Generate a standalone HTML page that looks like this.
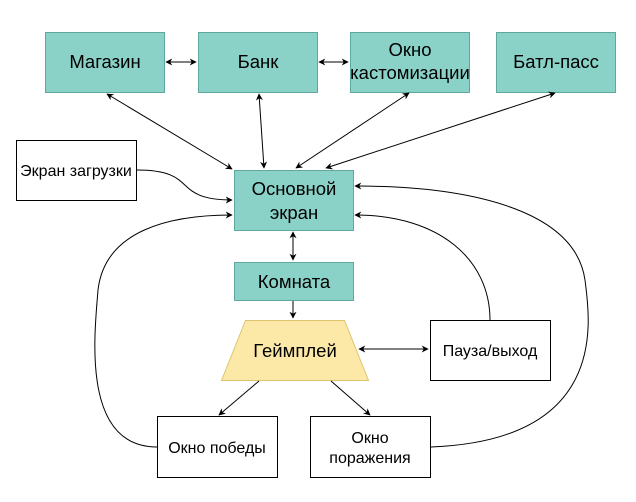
<!DOCTYPE html>
<html><head><meta charset="utf-8"><style>
body{margin:0;background:#fff;}
svg text{font-family:"Liberation Sans",sans-serif;fill:#000;}
</style></head><body>
<svg width="636" height="497" viewBox="0 0 636 497" xmlns="http://www.w3.org/2000/svg">
<defs>
<marker id="a" viewBox="0 0 10 10" refX="9" refY="5" markerWidth="7" markerHeight="7" orient="auto-start-reverse"><path d="M0,0 L10,5 L0,10 L3,5 z" fill="#000"/></marker>
</defs>
<g fill="#8ad1c8" stroke="#5fa89c" stroke-width="1">
<rect x="45.5" y="32.5" width="119" height="60"/>
<rect x="198.5" y="32.5" width="119" height="60"/>
<rect x="350.5" y="32.5" width="119" height="60"/>
<rect x="496.5" y="32.5" width="119" height="60"/>
<rect x="234.5" y="170.5" width="119" height="60"/>
<rect x="234.5" y="262.5" width="119" height="38"/>
</g>
<polygon points="245.5,320.5 344.5,320.5 368.5,380.5 221.5,380.5" fill="#fde9a7" stroke="#dcc46e"/>
<g fill="#fff" stroke="#000">
<rect x="16.5" y="140.5" width="120" height="60"/>
<rect x="430.5" y="320.5" width="120" height="60"/>
<rect x="157.5" y="416.5" width="120" height="61"/>
<rect x="310.5" y="416.5" width="120" height="61"/>
</g>
<g fill="none" stroke="#000" stroke-width="1">
<line x1="166" y1="62" x2="196" y2="62" marker-start="url(#a)" marker-end="url(#a)"/>
<line x1="319" y1="62" x2="348" y2="62" marker-start="url(#a)" marker-end="url(#a)"/>
<line x1="107" y1="94" x2="232" y2="169" marker-start="url(#a)" marker-end="url(#a)"/>
<line x1="259" y1="94" x2="264" y2="168" marker-start="url(#a)" marker-end="url(#a)"/>
<line x1="409" y1="93" x2="296" y2="168" marker-start="url(#a)" marker-end="url(#a)"/>
<line x1="555" y1="93" x2="326" y2="168" marker-start="url(#a)" marker-end="url(#a)"/>
<path d="M137,170 C200,170 170,200 232,200" marker-end="url(#a)"/>
<line x1="293" y1="232" x2="293" y2="260" marker-start="url(#a)" marker-end="url(#a)"/>
<line x1="293" y1="301" x2="293" y2="318" marker-end="url(#a)"/>
<line x1="359" y1="349" x2="428" y2="349" marker-start="url(#a)" marker-end="url(#a)"/>
<line x1="259" y1="381" x2="219" y2="415" marker-end="url(#a)"/>
<line x1="331" y1="381" x2="370" y2="415" marker-end="url(#a)"/>
<path d="M157,447 C80,447 95,330 98,290 C105,230 170,215 232,215" marker-end="url(#a)"/>
<path d="M490,320 C490,260 440,215 355,215" marker-end="url(#a)"/>
<path d="M431,447 C610,440 590,320 585,280 C575,210 470,186 355,186" marker-end="url(#a)"/>
</g>
<g font-size="18.5" text-anchor="middle">
<text x="105" y="68">Магазин</text>
<text x="258" y="68">Банк</text>
<text x="410" y="56">Окно</text>
<text x="410" y="79">кастомизации</text>
<text x="556" y="68">Батл-пасс</text>
<text x="294" y="195">Основной</text>
<text x="294" y="219">экран</text>
<text x="294" y="288">Комната</text>
<text x="295" y="357">Геймплей</text>
</g>
<g font-size="16" text-anchor="middle">
<text x="76" y="176">Экран загрузки</text>
<text x="490" y="356">Пауза/выход</text>
<text x="217" y="453">Окно победы</text>
<text x="370" y="443">Окно</text>
<text x="370" y="463">поражения</text>
</g>
</svg>
</body></html>
